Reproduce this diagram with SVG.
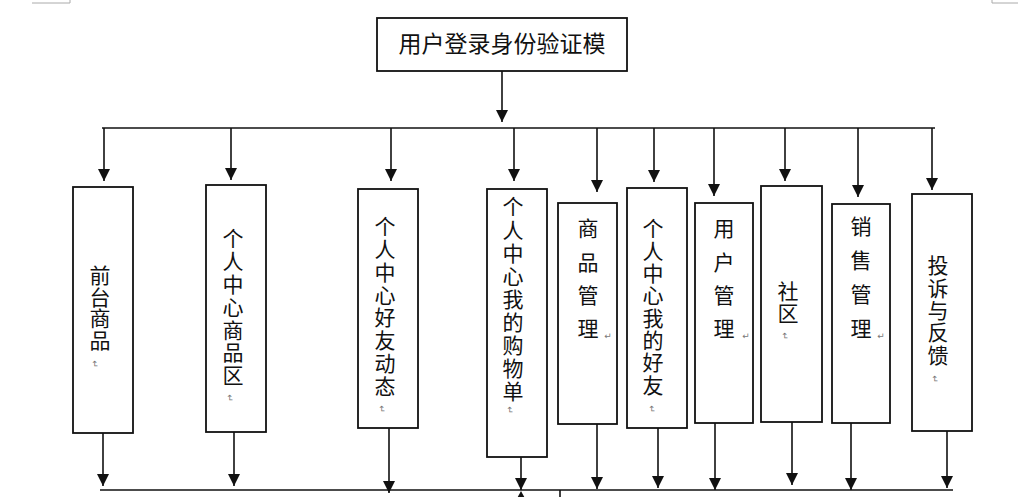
<svg xmlns="http://www.w3.org/2000/svg" width="1019" height="497" viewBox="0 0 1019 497">
<style>
.box{fill:#fff;stroke:#111;stroke-width:1.8}
.ln{stroke:#111;stroke-width:1.6;fill:none}
.arr{stroke:#111;stroke-width:1.6;fill:none;marker-end:url(#ah)}
.t{font-family:"Noto Sans CJK SC","Noto Sans CJK JP",sans-serif;font-size:21px;fill:#111}
.v{writing-mode:vertical-rl;text-orientation:upright}
.big{font-size:23px;text-anchor:middle}
.mk{font-family:"DejaVu Sans",sans-serif;font-size:9px;fill:#777;text-anchor:middle}
.corner{stroke:#aaa;stroke-width:1;fill:none}
</style>
<defs>
<marker id="ah" markerUnits="userSpaceOnUse" markerWidth="12" markerHeight="12" refX="12" refY="6" orient="auto">
<path d="M0,0 L12,6 L0,12 z" fill="#111"/>
</marker>
</defs>
<rect width="1019" height="497" fill="#fff"/>
<path class="corner" d="M32,3 H70 V0 M992,0 V3 H1018"/>

<g id="n-top">
<rect class="box" x="377" y="18" width="250" height="53"/>
<text class="t big" x="502" y="52">用户登录身份验证模</text>
</g>

<g id="n1">
<rect class="box" x="73" y="187" width="60" height="246"/>
<text class="t v" x="100" y="265" letter-spacing="0.5">前台商品</text>
<text class="mk" transform="translate(95,364) rotate(90)" y="3">↵</text>
</g>

<g id="n2">
<rect class="box" x="206" y="185" width="60" height="247"/>
<text class="t v" x="233" y="228" letter-spacing="1.8">个人中心商品区</text>
<text class="mk" transform="translate(230,398) rotate(90)" y="3">↵</text>
</g>

<g id="n3">
<rect class="box" x="358" y="189" width="60" height="239"/>
<text class="t v" x="385" y="216" letter-spacing="1.75">个人中心好友动态</text>
<text class="mk" transform="translate(382,409) rotate(90)" y="3">↵</text>
</g>

<g id="n4">
<rect class="box" x="487" y="189" width="60" height="268"/>
<text class="t v" x="513" y="196" letter-spacing="2.1">个人中心我的购物单</text>
<text class="mk" transform="translate(510,410) rotate(90)" y="3">↵</text>
</g>

<g id="n5">
<rect class="box" x="558" y="203" width="59" height="221"/>
<text class="t v" x="588" y="218" letter-spacing="12.3">商品管理</text>
<text class="mk" x="608" y="339">↵</text>
</g>

<g id="n6">
<rect class="box" x="627" y="188" width="60" height="240"/>
<text class="t v" x="653" y="218" letter-spacing="1.3">个人中心我的好友</text>
<text class="mk" transform="translate(652,409) rotate(90)" y="3">↵</text>
</g>

<g id="n7">
<rect class="box" x="695" y="203" width="58" height="220"/>
<text class="t v" x="724" y="218" letter-spacing="12.3">用户管理</text>
<text class="mk" x="746" y="339">↵</text>
</g>

<g id="n8">
<rect class="box" x="761" y="186" width="61" height="236"/>
<text class="t v" x="788" y="281" letter-spacing="1">社区</text>
<text class="mk" transform="translate(785,336) rotate(90)" y="3">↵</text>
</g>

<g id="n9">
<rect class="box" x="832" y="204" width="58" height="219"/>
<text class="t v" x="861" y="216" letter-spacing="13">销售管理</text>
<text class="mk" x="881" y="339">↵</text>
</g>

<g id="n10">
<rect class="box" x="912" y="194" width="60" height="237"/>
<text class="t v" x="938" y="255" letter-spacing="1.3">投诉与反馈</text>
<text class="mk" transform="translate(935,379) rotate(90)" y="3">↵</text>
</g>

<g id="connectors">
<line class="arr" x1="502" y1="71" x2="502" y2="122"/>
<line class="ln" x1="102" y1="128" x2="935" y2="128"/>
<line class="arr" x1="104" y1="128" x2="104" y2="181"/>
<line class="arr" x1="231" y1="128" x2="231" y2="180"/>
<line class="arr" x1="391" y1="128" x2="391" y2="181"/>
<line class="arr" x1="514" y1="128" x2="514" y2="181"/>
<line class="arr" x1="597" y1="128" x2="597" y2="192"/>
<line class="arr" x1="654" y1="128" x2="654" y2="182"/>
<line class="arr" x1="714" y1="128" x2="714" y2="196"/>
<line class="arr" x1="785" y1="128" x2="785" y2="181"/>
<line class="arr" x1="858" y1="128" x2="858" y2="197"/>
<line class="arr" x1="932" y1="128" x2="932" y2="190"/>

<line class="arr" x1="103" y1="433" x2="103" y2="486"/>
<line class="arr" x1="234" y1="432" x2="234" y2="486"/>
<line class="arr" x1="389" y1="428" x2="389" y2="493"/>
<line class="arr" x1="521" y1="457" x2="521" y2="490"/>
<line class="arr" x1="597" y1="424" x2="597" y2="489"/>
<line class="arr" x1="658" y1="428" x2="658" y2="488"/>
<line class="arr" x1="715" y1="423" x2="715" y2="490"/>
<line class="arr" x1="792" y1="422" x2="792" y2="485"/>
<line class="arr" x1="851" y1="423" x2="851" y2="490"/>
<line class="arr" x1="947" y1="431" x2="947" y2="488"/>
<line class="ln" x1="100" y1="490" x2="953" y2="490"/>
<path d="M515,502 L521,491 L527,502 z" fill="#111"/>
<line class="ln" x1="560" y1="490" x2="560" y2="497"/>
</g>
</svg>
